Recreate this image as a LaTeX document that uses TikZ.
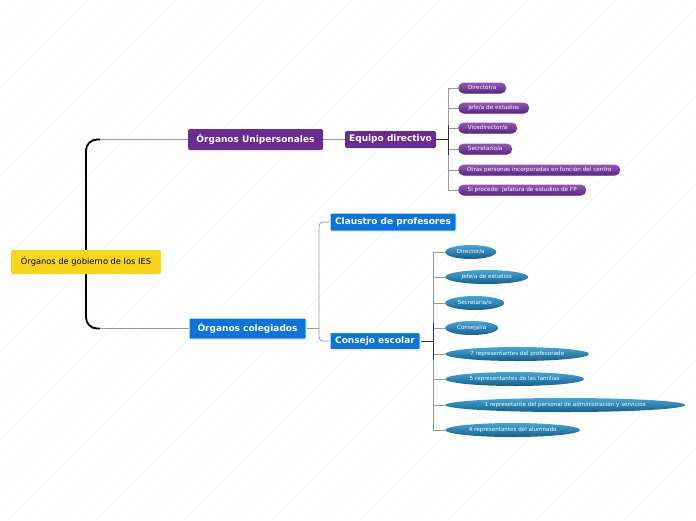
\documentclass[tikz,border=0pt]{standalone}
\usepackage{fontspec}
\setmainfont{DejaVu Sans}
\usetikzlibrary{shapes.geometric,shapes.misc,positioning,calc,shadows}
\definecolor{rootyellow}{HTML}{FAD51E}
\definecolor{unipurple}{HTML}{6A2C90}
\definecolor{colblue}{HTML}{0B74DF}
\definecolor{pilltop}{HTML}{9258B5}
\definecolor{pillbot}{HTML}{5A2381}
\definecolor{ovaltop}{HTML}{45A6D6}
\definecolor{ovalbot}{HTML}{155F8E}
\pgfdeclarelayer{paper}
\pgfdeclarelayer{wires}
\pgfsetlayers{paper,wires,main}

\begin{document}
\begin{tikzpicture}[x=1pt, y=-1pt,
    rootbox/.style={fill=rootyellow, rounded corners=2pt, minimum width=150pt, minimum height=24pt, inner sep=0pt, font=\fontsize{8.3}{9}\selectfont},
    unibox/.style={fill=unipurple, text=white, rounded corners=2pt, inner sep=0pt, font=\fontsize{9}{10}\selectfont\bfseries},
    colbox/.style={fill=colblue, draw=white, line width=1pt, text=white, rounded corners=1pt, inner sep=0pt, drop shadow={opacity=0.35, shadow xshift=0.6pt, shadow yshift=-0.8pt}, font=\fontsize{9}{10}\selectfont\bfseries},
    pill/.style={rounded rectangle, top color=pilltop, bottom color=pillbot, text=white, minimum height=11pt, inner sep=0pt, anchor=west, drop shadow={opacity=0.25, shadow xshift=0.4pt, shadow yshift=-0.6pt}, font=\fontsize{5.7}{6.5}\selectfont},
    oval/.style={ellipse, top color=ovaltop, bottom color=ovalbot, text=white, minimum height=14pt, inner sep=0pt, anchor=west, font=\fontsize{5.6}{6.5}\selectfont},
    link/.style={draw=black!40, line width=0.8pt},
    dark/.style={draw=black!80, line width=0.9pt},
    trunk/.style={draw=black, line width=1.8pt, rounded corners=11pt}
]
% paper with faint stripes
\begin{pgfonlayer}{paper}
\fill[white] (0,0) rectangle (696,520);
\begin{scope}
\clip (0,0) rectangle (696,520);
\foreach \s in {-520,-509,...,696}
  \draw[black!3, line width=0.6pt] (\s,520) -- (\s+520,0);
\end{scope}
\end{pgfonlayer}

% main topics
\node[rootbox] (root) at (86,262) {Órganos de gobierno de los IES};
\node[unibox, minimum width=135pt, minimum height=21pt] (uni) at (255.5,139.5) {Órganos Unipersonales};
\node[colbox, minimum width=117pt, minimum height=21pt] (col) at (247.5,328.5) {Órganos colegiados};
\node[unibox, minimum width=91pt, minimum height=17pt] (ed) at (390.5,139.5) {Equipo directivo};
\node[colbox, minimum width=126pt, minimum height=18pt] (cl) at (393,222) {Claustro de profesores};
\node[colbox, minimum width=90pt, minimum height=17pt] (ce) at (375,341) {Consejo escolar};

% equipo directivo
\foreach \y/\w/\t [count=\i] in {88/48/{Director/a}, 108/71/{Jefe/a de estudios}, 128/59/{Vicedirector/a}, 149/54/{Secretario/a}, 170/162/{Otras personas incorporadas en función del centro}, 190/128/{Si procede: Jefatura de estudios de FP}}
  \node[pill, minimum width=\w pt] (p\i) at (458,\y) {\t};

% consejo escolar
\foreach \y/\w/\t [count=\i] in {252/51/{Director/a}, 277/83/{Jefe/a de estudios}, 303/59/{Secretaria/o}, 328/53/{Consejal/a}, 354/144/{7 representantes del profesorado}, 379/139/{5 representantes de las familias}, 405/240/{1 represetante del personal de administración y servicios}, 430/135/{4 representantes del alumnado}}
  \node[oval, minimum width=\w pt] (o\i) at (445,\y) {\t};

\coordinate (ut) at ($(root.center |- uni.west)+(14,0)$);
\coordinate (lt) at ($(root.center |- col.west)+(14,0)$);
\coordinate (cb) at (319,328.5);
\coordinate (pb) at (448,139.5);
\coordinate (ob) at (433,341);

\begin{pgfonlayer}{wires}
\draw[trunk] (ut) -| (root.center) |- (lt);
\draw[link] (ut) -- (uni.west);
\draw[link] (lt) -- (col.west);
\draw[link] (uni.east) -- (ed.west);
\draw[link] (col.east) -- (cb);
\draw[link, rounded corners=4pt] (cl.west) -| (cb) |- (ce.west);
\draw[link] (p1.west -| pb) -- (p6.west -| pb);
\foreach \i in {1,...,6}
  \draw[link] (pb |- p\i.west) -- (p\i.west);
\draw[dark] (ed.east) -- (pb);
\draw[dark] ($(pb)+(0,-15)$) -- ($(pb)+(0,15)$);
\draw[link] (o1.west -| ob) -- (o8.west -| ob);
\foreach \i in {1,...,8}
  \draw[link] (ob |- o\i.west) -- (o\i.west);
\draw[dark] (ce.east) -- (ob);
\draw[dark] ($(ob)+(0,-18)$) -- ($(ob)+(0,18)$);
\end{pgfonlayer}
\end{tikzpicture}
\end{document}
